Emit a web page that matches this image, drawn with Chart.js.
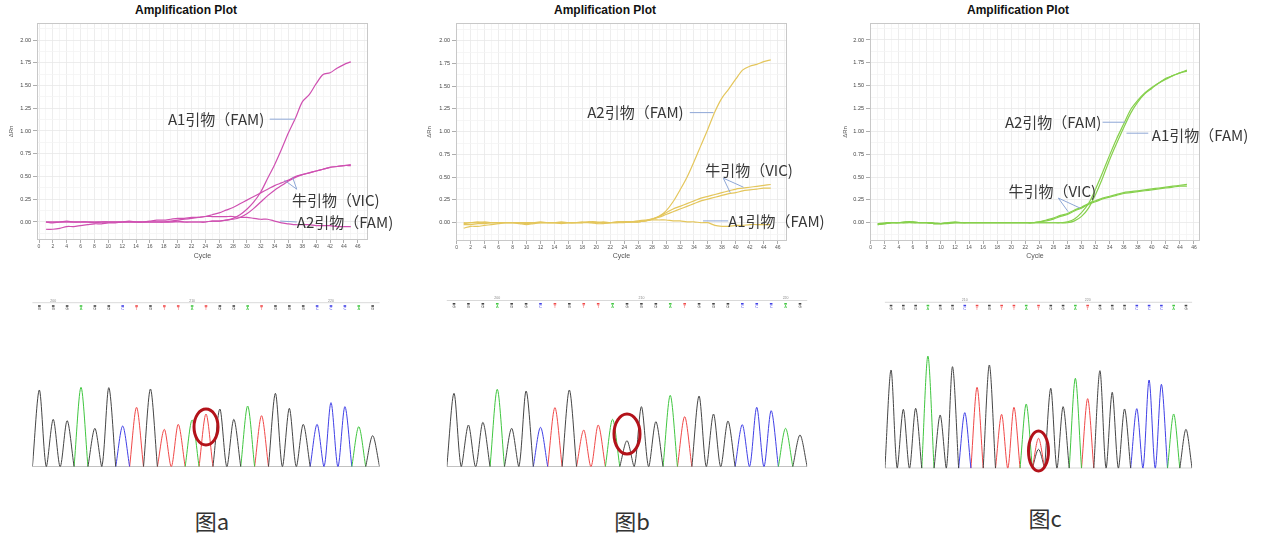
<!DOCTYPE html>
<html>
<head>
<meta charset="utf-8">
<script src="https://cdn.jsdelivr.net/npm/chart.js@4.4.1/dist/chart.umd.min.js"></script>
<style>
body{margin:0;background:#fff;width:1269px;height:550px;position:relative;overflow:hidden;font-family:"Noto Sans CJK SC","Noto Sans",sans-serif}
.box{position:absolute}
.ttl{position:absolute;transform:translate(-50%,-50%);font:bold 12px "Liberation Sans",Arial,sans-serif;color:#111;white-space:nowrap}
.fig{position:absolute;transform:translate(-50%,-50%);font-size:22px;color:#333;white-space:nowrap}
</style>
</head>
<body>
<div class="ttl" style="left:186px;top:10px">Amplification Plot</div>
<div class="ttl" style="left:605px;top:10px">Amplification Plot</div>
<div class="ttl" style="left:1018px;top:10px">Amplification Plot</div>

<div class="box" style="left:0;top:0"><canvas id="ampA" width="410" height="265"></canvas></div>
<div class="box" style="left:420px;top:0"><canvas id="ampB" width="410" height="265"></canvas></div>
<div class="box" style="left:840px;top:0"><canvas id="ampC" width="429" height="265"></canvas></div>

<div class="box" style="left:20px;top:290px"><canvas id="seqA" width="375" height="185"></canvas></div>
<div class="box" style="left:435px;top:290px"><canvas id="seqB" width="385" height="185"></canvas></div>
<div class="box" style="left:870px;top:290px"><canvas id="seqC" width="335" height="185"></canvas></div>

<div class="fig" style="left:212px;top:520px">图a</div>
<div class="fig" style="left:632px;top:520px">图b</div>
<div class="fig" style="left:1045px;top:517px">图c</div>

<script>
// ---- amplification plots: cycles 1..45, ΔRn ----
const cycles = [1,2,3,4,5,6,7,8,9,10,11,12,13,14,15,16,17,18,19,20,21,22,23,24,25,26,27,28,29,30,31,32,33,34,35,36,37,38,39,40,41,42,43,44,45];
const xLabelVals = [0,2,4,6,8,10,12,14,16,18,20,22,24,26,28,30,32,34,36,38,40,42,44,46];
const yLabelVals = [0,0.25,0.5,0.75,1,1.25,1.5,1.75,2];

// 图a
const aA1 = [0,0,0,0.01,0,0,0,-0.01,0,0, 0,0,0.01,0,0,0,0,0,0,0.01, 0,0,0,0,0.01,0.01,0.02,
  0.04,0.08,0.14,0.22,0.33,0.48,0.63,0.80,0.98,1.14,1.32,1.40,1.52,1.62,1.64,1.69,1.73,1.76];
const aA2 = [0,-0.01,0,0,0,0,0,0,0,0, 0,0,0,0,0,0.01,0.02,0.02,0.03,0.04, 0.04,0.05,0.05,0.06,0.06,0.06,0.06,0.06,0.05,0.05,
  0.04,0.03,0.03,0.01,-0.01,-0.02,-0.03,-0.03,-0.03,-0.04,-0.04,-0.04,-0.05,-0.05,-0.05];
const aVic1 = [0,0,0,0,0,0,0,0,0,0, 0,0,0,0,0,0,0,0,0.01,0.02, 0.03,0.04,0.05,0.06,0.08,0.10,0.13,0.16,0.20,0.24,
  0.28,0.32,0.36,0.40,0.43,0.46,0.50,0.52,0.54,0.56,0.58,0.60,0.61,0.62,0.62];
const aVic2 = [-0.08,-0.08,-0.07,-0.05,-0.05,-0.04,-0.03,-0.02,-0.02,-0.01, -0.01,0,0,0,0,0,0,0,0,0, 0,0,0,0,0.01,0.01,0.02,
  0.03,0.05,0.09,0.15,0.22,0.29,0.35,0.40,0.45,0.49,0.52,0.54,0.56,0.58,0.60,0.61,0.62,0.63];

// 图b
const bA2 = [-0.01,0,0,0.01,0,0,0,0,0,-0.01, 0,0,0,0,0.01,0,0,0.01,0,0, 0.01,0,0,0,0.01,0.01,0.02,
  0.04,0.07,0.13,0.23,0.36,0.50,0.67,0.85,1.03,1.22,1.37,1.47,1.58,1.68,1.72,1.74,1.77,1.79];
const bVic1 = [-0.02,-0.02,-0.01,-0.01,0,0,0,0,0,0, 0,0.01,0,0,0,0,0,0,0.01,0.01, 0,0,0.01,0.01,0.01,0.02,0.03,
  0.04,0.07,0.11,0.15,0.18,0.21,0.24,0.27,0.29,0.31,0.33,0.35,0.37,0.38,0.39,0.40,0.41,0.42];
const bVic2 = [-0.06,-0.04,-0.04,-0.03,-0.02,-0.01,0,0,0,0, 0,0,0,0,0,0,0,0,0,0, 0,0,0.01,0.01,0.01,0.01,0.02,
  0.04,0.06,0.09,0.12,0.15,0.18,0.21,0.24,0.26,0.28,0.30,0.32,0.33,0.35,0.36,0.37,0.38,0.38];
const bA1 = [0,0,0.01,0,0,0,0,0,-0.01,-0.02, -0.01,0,0,0,-0.01,0,0,0,0.01,-0.01, -0.01,0,0,0.01,0.01,0.01,0.02,
  0.03,0.03,0.03,0.02,0.02,0.01,0.01,0,0,-0.03,-0.04,-0.04,-0.03,-0.03,-0.02,-0.02,-0.02,-0.02];

// 图c
const cA2 = [-0.02,-0.01,0,0,0.01,0.01,0,0,-0.01,-0.01, 0,0.01,0,0,0,0,0,0,0,0, 0,0,0,0,0,0,0,
  0.01,0.04,0.11,0.21,0.37,0.55,0.74,0.92,1.08,1.24,1.34,1.42,1.48,1.53,1.58,1.61,1.64,1.66];
const cA1 = [-0.01,-0.01,0,0,0,0.01,0,0,-0.01,-0.01, -0.01,0,0,0,0,0,0,0,0,0, 0,0,0,0,0,0,0,
  0,0.02,0.07,0.16,0.31,0.49,0.69,0.87,1.04,1.20,1.32,1.41,1.47,1.53,1.57,1.61,1.64,1.67];
const cVic1 = [-0.01,0,0,0,0.01,0,0,0,0,-0.01, 0,0,0,0,0,0,0,0,0,0, 0,0,0,0.01,0.03,0.05,0.08,
  0.10,0.14,0.17,0.21,0.24,0.27,0.29,0.31,0.33,0.34,0.35,0.36,0.37,0.38,0.39,0.40,0.41,0.42];
const cVic2 = [-0.02,-0.01,0,0,0,0,0,0,-0.01,-0.01, 0,0,0,0,0,0,0,0,0,0, 0,0,0,0.01,0.02,0.04,0.07,
  0.09,0.13,0.16,0.20,0.23,0.26,0.28,0.30,0.32,0.33,0.34,0.35,0.36,0.37,0.38,0.39,0.40,0.40];

// ---- sequencing traces: 25 base calls and peak heights ----
const seqABases = "GGGAGGCTGTTATGGATGGGCCCAG";
const seqAHeights = [2300,1420,1380,2380,1150,2370,1220,1780,2330,1120,1270,1400,1580,1730,1420,1820,1530,2200,1750,1270,1270,1920,1800,1200,930];
const seqBBases = "GGGAGGCTGTTAGGGATGGGCCCAG";
const seqBHeights = [2200,1250,1330,2320,1150,2270,1180,1770,2300,1100,1250,1420,780,1800,1350,2140,1500,2120,1580,1370,1260,1780,1680,1150,950];
const seqCBases = "GGGAGGCTGTTATGGATGGGCCCAG";
const seqCHeights = [2950,1770,1800,3370,1600,3050,1670,2430,3100,1620,1830,1930,900,2400,1850,2700,2090,2930,2280,1780,1790,2650,2520,1630,1170];
const seqCMinorPos = [13];
const seqCMinorBase = ["G"];
const seqCMinorHeight = [570];

const baseColor = {G:'#454545', A:'#40c640', C:'#4040e6', T:'#f04848'};

// ---------- plugins ----------
const ampDeco = {
  id: 'ampDeco',
  beforeDatasetsDraw(chart) {
    const {ctx, chartArea: a} = chart;
    ctx.save();
    ctx.strokeStyle = '#c8c8c8';
    ctx.lineWidth = 1;
    ctx.strokeRect(a.left + 0.5, a.top + 0.5, a.width - 1, a.height - 1);
    ctx.restore();
  },
  afterDatasetsDraw(chart, args, o) {
    const {ctx, scales: {x, y}} = chart;
    ctx.save();
    ctx.strokeStyle = '#8ea7d6';
    ctx.lineWidth = 1;
    o.lines.forEach(l => {
      ctx.beginPath();
      ctx.moveTo(x.getPixelForValue(l[0]), y.getPixelForValue(l[1]));
      ctx.lineTo(x.getPixelForValue(l[2]), y.getPixelForValue(l[3]));
      ctx.stroke();
    });
    ctx.font = '15px "Noto Sans CJK SC"';
    ctx.fillStyle = '#383838';
    ctx.textAlign = 'left';
    ctx.textBaseline = 'middle';
    o.labels.forEach(t => ctx.fillText(t.text, x.getPixelForValue(t.x), y.getPixelForValue(t.y)));
    ctx.restore();
  }
};

const chromDeco = {
  id: 'chromDeco',
  afterDatasetsDraw(chart, args, o) {
    const {ctx, chartArea: a, scales: {x, y}} = chart;
    ctx.save();
    ctx.strokeStyle = '#cfcfcf';
    ctx.lineWidth = 0.8;
    ctx.beginPath();
    ctx.moveTo(a.left, o.rowLineY);
    ctx.lineTo(a.right, o.rowLineY);
    ctx.stroke();
    ctx.textAlign = 'center';
    ctx.textBaseline = 'middle';
    o.bases.split('').forEach((b, i) => {
      const px = x.getPixelForValue(i + 1);
      ctx.fillStyle = baseColor[b];
      ctx.fillRect(px - 1.3, o.rowLineY + 2.5, 2.6, 1.6);
      ctx.font = '4px "Liberation Sans"';
      ctx.fillText(b, px, o.rowLineY + 6.5);
    });
    ctx.fillStyle = '#888';
    ctx.font = '3.5px "Liberation Sans"';
    o.nums.forEach(n => ctx.fillText(n.text, x.getPixelForValue(n.pos), o.rowLineY - 2));
    const c = o.circle;
    ctx.strokeStyle = '#b3121a';
    ctx.lineWidth = 3;
    ctx.beginPath();
    ctx.ellipse(x.getPixelForValue(c.x), y.getPixelForValue(c.y), c.rx, c.ry, 0, 0, Math.PI * 2);
    ctx.stroke();
    ctx.restore();
  }
};

// ---------- builders ----------
function ampChart(id, g, color, series, notes) {
  const xGrid = [];
  for (let v = 0; v <= g.xMax; v++) xGrid.push(v);
  const yGrid = [];
  for (let k = -1; k <= 17; k++) yGrid.push(k * 0.125);
  const isYLab = v => yLabelVals.some(l => Math.abs(l - v) < 1e-6);
  return new Chart(document.getElementById(id), {
    type: 'line',
    data: {
      datasets: series.map(vals => ({
        data: cycles.map((c, i) => ({x: c, y: vals[i]})),
        borderColor: color,
        borderWidth: 1.2,
        pointRadius: 0,
        tension: 0.3,
        fill: false
      }))
    },
    options: {
      responsive: false,
      animation: false,
      layout: {padding: {left: 0, top: 23, right: g.padRight, bottom: 0}},
      plugins: {legend: {display: false}, tooltip: {enabled: false}, ampDeco: notes},
      scales: {
        x: {
          type: 'linear', min: g.xMin, max: g.xMax,
          afterBuildTicks: s => { s.ticks = xGrid.map(v => ({value: v})); },
          afterFit: s => { s.height = g.xHeight; },
          ticks: {
            autoSkip: false, maxRotation: 0, padding: 1, color: '#555',
            font: {size: 5, family: 'Liberation Sans'},
            callback: v => xLabelVals.includes(v) ? String(v) : ''
          },
          grid: {
            color: c => (c.tick && c.tick.value % 2 === 0) ? '#e9e9e9' : '#f4f4f4',
            tickColor: c => (c.tick && xLabelVals.includes(c.tick.value)) ? '#999' : 'rgba(0,0,0,0)',
            tickLength: 3, lineWidth: 0.8
          },
          border: {display: false},
          title: {display: true, text: 'Cycle', color: '#555', font: {size: 7, family: 'Liberation Sans'}, padding: {top: 0, bottom: 5}}
        },
        y: {
          type: 'linear', min: g.yMin, max: g.yMax,
          afterBuildTicks: s => { s.ticks = yGrid.map(v => ({value: v})); },
          afterFit: s => { s.width = g.yWidth; },
          ticks: {
            autoSkip: false, padding: 2, color: '#444',
            font: {size: 5.5, family: 'Liberation Sans'},
            callback: v => isYLab(v) ? v.toFixed(2) : ''
          },
          grid: {
            color: c => (c.tick && isYLab(c.tick.value)) ? '#e9e9e9' : '#f4f4f4',
            tickColor: c => (c.tick && isYLab(c.tick.value)) ? '#999' : 'rgba(0,0,0,0)',
            tickLength: 4, lineWidth: 0.8
          },
          border: {display: false},
          title: {display: true, text: 'ΔRn', color: '#555', font: {size: 6, family: 'Liberation Sans'}, padding: {top: g.yTitlePad, bottom: 0}}
        }
      }
    },
    plugins: [ampDeco]
  });
}

function peakSet(bases, heights, b) {
  const pts = [];
  let last = -10;
  bases.split('').forEach((ch, i) => {
    if (ch !== b) return;
    const p = i + 1;
    if (last !== p - 1) {
      if (pts.length) pts.push({x: p - 1, y: null});
      pts.push({x: p - 0.5, y: 0});
    }
    pts.push({x: p, y: heights[i]});
    pts.push({x: p + 0.5, y: 0});
    last = p;
  });
  return pts;
}

function chromChart(id, pad, bases, heights, minor, deco) {
  const sets = Object.keys(baseColor).map(b => ({
    data: peakSet(bases, heights, b),
    borderColor: baseColor[b], borderWidth: 1, pointRadius: 0, tension: 0.3, order: 1
  }));
  minor.forEach(m => sets.push({
    data: [{x: m.pos - 0.5, y: 0}, {x: m.pos, y: m.h}, {x: m.pos + 0.5, y: 0}],
    borderColor: baseColor[m.base], borderWidth: 1, pointRadius: 0, tension: 0.3, order: 2
  }));
  sets.push({
    data: [{x: 0.5, y: 0}, {x: 25.5, y: 0}],
    borderColor: '#9a9a9a', borderWidth: 1, pointRadius: 0, order: 5
  });
  return new Chart(document.getElementById(id), {
    type: 'line',
    data: {datasets: sets},
    options: {
      responsive: false,
      animation: false,
      layout: {padding: pad},
      plugins: {legend: {display: false}, tooltip: {enabled: false}, chromDeco: deco},
      scales: {
        x: {type: 'linear', min: 0.5, max: 25.5, display: false},
        y: {type: 'linear', min: 0, max: 4000, display: false}
      }
    },
    plugins: [chromDeco]
  });
}

// ---------- amplification plots ----------
ampChart('ampA', {xMin: -0.29, xMax: 47.48, yMin: -0.198, yMax: 2.187, yWidth: 37, xHeight: 25, padRight: 42, yTitlePad: 8},
  '#cf50b1', [aA2, aVic2, aVic1, aA1], {
    labels: [
      {text: 'A1引物（FAM)', x: 18.6, y: 1.13},
      {text: '牛引物（VIC)', x: 36.5, y: 0.24},
      {text: 'A2引物（FAM)', x: 37.2, y: 0.0}
    ],
    lines: [[33.3, 1.13, 36.9, 1.13], [37.2, 0.36, 35.4, 0.46], [37.2, 0.36, 36.6, 0.49], [34.8, 0.01, 37.2, 0.0]]
  });

ampChart('ampB', {xMin: -0.1, xMax: 47.33, yMin: -0.201, yMax: 2.195, yWidth: 36, xHeight: 24, padRight: 43, yTitlePad: 6},
  '#e4c65c', [bA1, bVic2, bVic1, bA2], {
    labels: [
      {text: 'A2引物（FAM)', x: 18.7, y: 1.21},
      {text: '牛引物（VIC)', x: 35.6, y: 0.58},
      {text: 'A1引物（FAM)', x: 38.9, y: 0.02}
    ],
    lines: [[33.4, 1.21, 36.8, 1.21], [38.2, 0.49, 41.1, 0.39], [38.2, 0.49, 39.2, 0.33], [35.3, 0.02, 38.9, 0.02]]
  });

ampChart('ampC', {xMin: -0.1, xMax: 46.86, yMin: -0.2, yMax: 2.186, yWidth: 30, xHeight: 24, padRight: 69, yTitlePad: 1.4},
  '#86d04c', [cVic2, cVic1, cA1, cA2], {
    labels: [
      {text: 'A2引物（FAM)', x: 19.1, y: 1.10},
      {text: 'A1引物（FAM)', x: 40.0, y: 0.96},
      {text: '牛引物（VIC)', x: 19.6, y: 0.34}
    ],
    lines: [[33.0, 1.10, 36.2, 1.10], [36.4, 0.98, 39.5, 0.98], [26.7, 0.27, 28.1, 0.12], [26.7, 0.27, 29.8, 0.16]]
  });

// ---------- sequencing traces ----------
chromChart('seqA', {left: 12.4, right: 15.4, top: 43.3, bottom: 8.3}, seqABases, seqAHeights, [], {
  bases: seqABases, rowLineY: 12.7,
  nums: [{text: '200', pos: 2}, {text: '210', pos: 12}, {text: '220', pos: 22}],
  circle: {x: 13, y: 1190, rx: 12, ry: 18}
});
chromChart('seqB', {left: 11.8, right: 12.8, top: 43.3, bottom: 8.3}, seqBBases, seqBHeights, [], {
  bases: seqBBases, rowLineY: 10.5,
  nums: [{text: '200', pos: 4}, {text: '210', pos: 14}, {text: '220', pos: 24}],
  circle: {x: 13, y: 980, rx: 13, ry: 20}
});
chromChart('seqC', {left: 14.9, right: 12.9, top: 45, bottom: 6.7}, seqCBases, seqCHeights,
  seqCMinorPos.map((p, i) => ({pos: p, base: seqCMinorBase[i], h: seqCMinorHeight[i]})), {
  bases: seqCBases, rowLineY: 12.3,
  nums: [{text: '210', pos: 7}, {text: '220', pos: 17}],
  circle: {x: 13, y: 520, rx: 10, ry: 20}
});
</script>
</body>
</html>
